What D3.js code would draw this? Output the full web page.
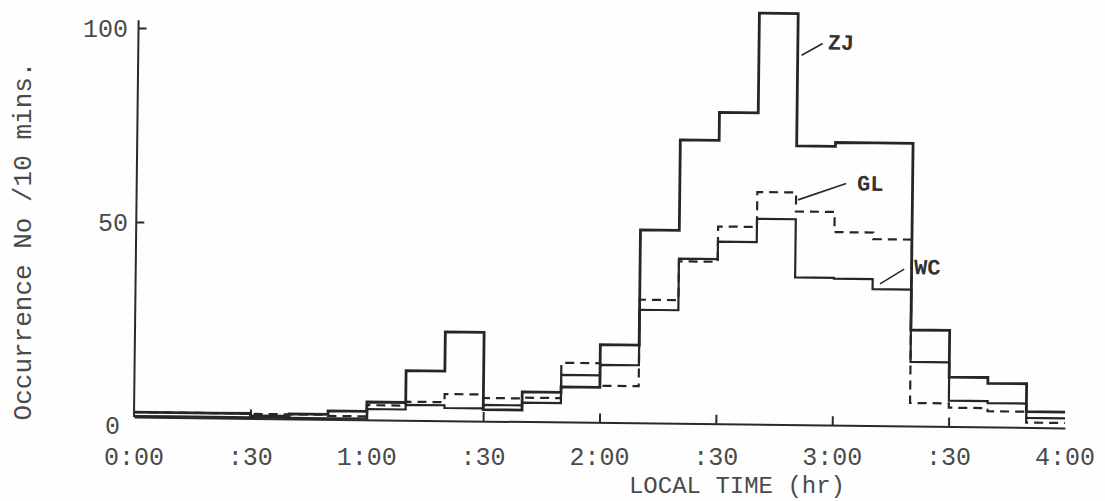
<!DOCTYPE html>
<html>
<head>
<meta charset="utf-8">
<script src="https://cdn.jsdelivr.net/npm/d3@7"></script>
<style>
  body { margin: 0; background: #fff; }
  text { font-family: "Courier New", "Liberation Mono", monospace; fill: #4a4a4a; }
</style>
</head>
<body>
<div id="chart"></div>
<script>
// 10-minute bins, start of each bin in minutes after 0:00
const binStarts = [0, 10, 20, 30, 40, 50, 60, 70, 80, 90, 100, 110,
  120, 130, 140, 150, 160, 170, 180, 190, 200, 210, 220, 230];
const binEnd = 240;

// occurrences per 10 minutes
const zj = [1, 1, 1, 0.4, 1, 1.9, 4.3, 12.5, 22.6, 2.7, 7.4, 8.8,
  19.8, 49.5, 72.8, 80, 105.7, 71.6, 72.6, 72.6, 24.5, 12.5, 11, 3.8];
const gl = [1, 1, 1, 0.9, 0.9, 0.6, 3.5, 4.5, 6.6, 5.7, 5.9, 15,
  9.2, 31.5, 41.5, 50.6, 59.6, 54.7, 49.5, 47.8, 5.7, 4.6, 3.8, 1.0];
const wc = [0, 0, 0, 0, 0, 0, 2.5, 3.7, 3.0, 3.9, 4.6, 11.9,
  14.6, 28.9, 42.2, 46.7, 52.7, 37.7, 37.5, 34.9, 16.3, 6.4, 5.9, 2.2];

const timeTicks = [0, 30, 60, 90, 120, 150, 180, 210, 240];
const timeLabels = ['0:00', ':30', '1:00', ':30', '2:00', ':30', '3:00', ':30', '4:00'];
const countTicks = [0, 50, 100];

const width = 1105;
const height = 501;
const origin = {x: 134, y: 416};
const tilt = 0.67; // the scanned plot frame is slightly skewed

const x = d3.scaleLinear().domain([0, 240]).range([origin.x, origin.x + 931]);
const y = d3.scaleLinear().domain([0, 100]).range([origin.y, origin.y - 388]);

const svg = d3.select('#chart')
  .append('svg')
  .attr('width', width)
  .attr('height', height);

svg.append('rect').attr('width', width).attr('height', height).attr('fill', '#fefefe');

const plot = svg.append('g')
  .attr('transform', `rotate(${tilt},${origin.x},${origin.y})`);

// axes
plot.append('line')
  .attr('x1', x(0)).attr('x2', x(0))
  .attr('y1', y(0) + 1).attr('y2', y(102))
  .attr('stroke', '#2a2a2a').attr('stroke-width', 2);

plot.append('g')
  .attr('transform', `translate(${x(0)},0)`)
  .call(d3.axisLeft(y).tickValues([50, 100]).tickSize(-8).tickFormat(''))
  .call(g => g.select('.domain').remove())
  .call(g => g.selectAll('line').attr('stroke', '#2a2a2a').attr('stroke-width', 2));

plot.append('g')
  .attr('transform', `translate(0,${y(0) + 1})`)
  .call(d3.axisBottom(x).tickValues(timeTicks.slice(1, -1)).tickSize(-9).tickSizeOuter(0).tickFormat(''))
  .call(g => g.select('.domain').attr('stroke', '#2a2a2a').attr('stroke-width', 2))
  .call(g => g.selectAll('line').attr('stroke', '#2a2a2a').attr('stroke-width', 2));

// step series
const toSteps = vals => binStarts.map((t, i) => ({t, v: vals[i]}))
  .concat([{t: binEnd, v: vals[vals.length - 1]}]);

const step = d3.line()
  .x(d => x(d.t))
  .y(d => y(d.v))
  .curve(d3.curveStepAfter);

const series = [
  {name: 'WC', vals: wc, width: 2.2, dash: null},
  {name: 'GL', vals: gl, width: 2.2, dash: '9,6'},
  {name: 'ZJ', vals: zj, width: 2.8, dash: null},
];

plot.selectAll('path.series')
  .data(series)
  .join('path')
  .attr('class', 'series')
  .attr('d', d => step(toSteps(d.vals)))
  .attr('fill', 'none')
  .attr('stroke', '#262626')
  .attr('stroke-width', d => d.width)
  .attr('stroke-dasharray', d => d.dash)
  .attr('stroke-linejoin', 'miter');

// series labels with leader lines
const notes = [
  {name: 'ZJ', t: 171, v: 95, ex: 21, ey: -12, tx: 26, ty: -6},
  {name: 'GL', t: 170.5, v: 57.7, ex: 48, ey: -17, tx: 59, ty: -10},
  {name: 'WC', t: 191.9, v: 36.3, ex: 24, ey: -15, tx: 34, ty: -10},
];

plot.selectAll('line.leader')
  .data(notes)
  .join('line')
  .attr('class', 'leader')
  .attr('x1', d => x(d.t)).attr('y1', d => y(d.v))
  .attr('x2', d => x(d.t) + d.ex).attr('y2', d => y(d.v) + d.ey)
  .attr('stroke', '#2a2a2a').attr('stroke-width', 1.6);

plot.selectAll('text.note')
  .data(notes)
  .join('text')
  .attr('class', 'note')
  .attr('x', d => x(d.t) + d.tx)
  .attr('y', d => y(d.v) + d.ty)
  .attr('font-size', 22)
  .attr('font-weight', 'bold')
  .style('fill', '#333')
  .text(d => d.name);

// tick labels, typed level on the page
svg.selectAll('text.xtick')
  .data(timeTicks)
  .join('text')
  .attr('class', 'xtick')
  .attr('x', d => x(d))
  .attr('y', 465)
  .attr('text-anchor', 'middle')
  .attr('font-size', 25)
  .text((d, i) => timeLabels[i]);

svg.selectAll('text.ytick')
  .data(countTicks)
  .join('text')
  .attr('class', 'ytick')
  .attr('x', d => (d === 0 ? x(0) - 14 : x(0) - 6))
  .attr('y', d => y(d) + (d === 0 ? 9 : 0))
  .attr('dy', '0.35em')
  .attr('text-anchor', 'end')
  .attr('font-size', 25)
  .text(d => d);

svg.append('text')
  .attr('x', 737)
  .attr('y', 493)
  .attr('text-anchor', 'middle')
  .attr('font-size', 24)
  .text('LOCAL TIME (hr)');

svg.append('text')
  .attr('transform', 'translate(31,241) rotate(-90)')
  .attr('text-anchor', 'middle')
  .attr('font-size', 26)
  .text('Occurrence No /10 mins.');
</script>
</body>
</html>
